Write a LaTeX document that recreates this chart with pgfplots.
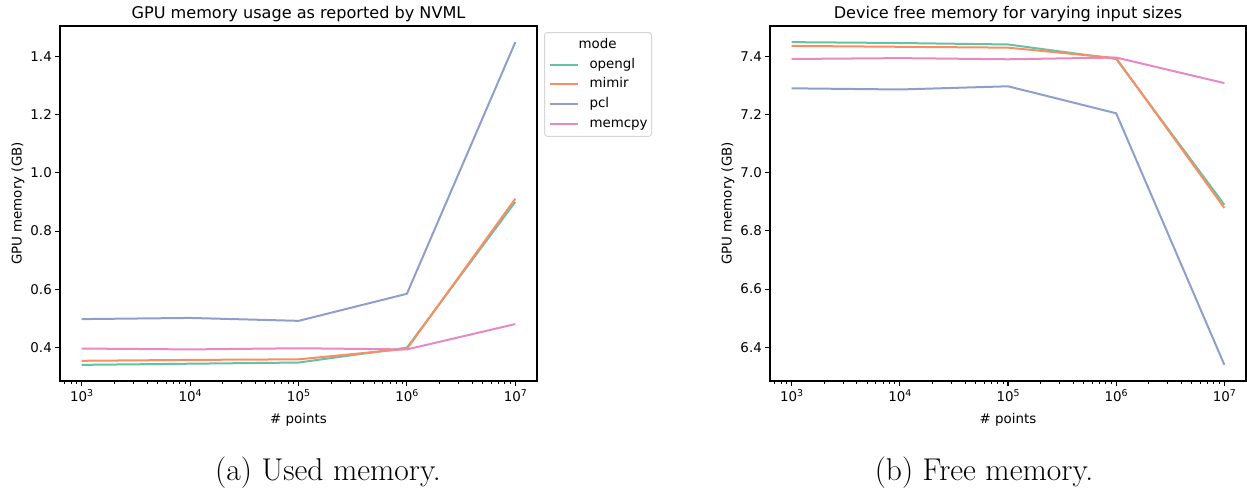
\documentclass[border=0pt]{standalone}
\usepackage{fontspec}
\newfontfamily\dejavu{DejaVu Sans}
\usepackage{pgfplots}
\pgfplotsset{compat=1.18}
\definecolor{cgreen}{HTML}{66C2A5}
\definecolor{corange}{HTML}{FC8D62}
\definecolor{cblue}{HTML}{8DA0CB}
\definecolor{cpink}{HTML}{E78AC3}
\definecolor{legframe}{HTML}{D6D6D6}
\newcommand\tfont{\dejavu\fontsize{13.4}{16}\selectfont}
\newcommand\pw[1]{10\raisebox{0.42em}{\fontsize{9.4}{10}\selectfont #1}}
\pgfplotsset{memax/.style={
  scale only axis, width=477pt, height=355pt,
  xmin=630.957, xmax=15848932,
  xtick={1000,10000,100000,1000000,10000000},
  xticklabels={\pw{3},\pw{4},\pw{5},\pw{6},\pw{7}},
  minor xtick={700,800,900,2000,3000,4000,5000,6000,7000,8000,9000,
    2e4,3e4,4e4,5e4,6e4,7e4,8e4,9e4,2e5,3e5,4e5,5e5,6e5,7e5,8e5,9e5,
    2e6,3e6,4e6,5e6,6e6,7e6,8e6,9e6},
  tick align=outside, xtick pos=left, ytick pos=left,
  major tick length=4.7pt, minor tick length=2.7pt,
  major tick style={line width=1.07pt, black},
  minor tick style={line width=0.8pt, black},
  axis line style={line width=1.07pt, black},
  tick label style={font=\tfont},
  /pgf/number format/assume math mode=true,
  yticklabel style={/pgf/number format/fixed, /pgf/number format/fixed zerofill, /pgf/number format/precision=1},
  xlabel={\# points}, ylabel={GPU memory (GB)},
  label style={font=\tfont},
  title style={font=\dejavu\fontsize{16.1}{19}\selectfont, at={(0.5,1)}, anchor=base, yshift=1.5pt},
  xlabel style={at={(axis description cs:0.5,0)}, anchor=base, yshift=-43pt},
  ylabel style={at={([xshift=-38.5pt]axis description cs:0,0.5)}, anchor=base},
  every axis plot/.append style={line width=2pt, no markers},
}}
\begin{document}
\begin{tikzpicture}
\useasboundingbox (0pt,0pt) rectangle (1247pt,489pt);
\begin{axis}[xmode=log, memax, at={(60pt,108pt)}, anchor=south west,
  ymin=0.2857, ymax=1.5034, ytick={0.4,0.6,0.8,1.0,1.2,1.4},
  title={GPU memory usage as reported by NVML},
  legend image code/.code={\draw[#1] (0pt,0pt) -- (28pt,0pt);},
  legend cell align=left,
  legend style={at={(1.0147,0.983)}, anchor=north west, draw=legframe, rounded corners=3pt,
    line width=1pt, fill=white, inner xsep=4pt, inner ysep=6pt, font=\tfont,
    row sep=6.7pt, column sep=11pt,
    nodes={inner sep=0pt, text height=10pt, text depth=3pt}},
]
\addlegendimage{empty legend}\addlegendentry{\hspace*{-11pt}mode}
\addplot[cgreen] coordinates {(1e3,0.341)(1e4,0.345)(1e5,0.349)(1e6,0.400)(1e7,0.900)};
\addlegendentry{opengl}
\addplot[corange] coordinates {(1e3,0.355)(1e4,0.358)(1e5,0.360)(1e6,0.396)(1e7,0.911)};
\addlegendentry{mimir}
\addplot[cblue] coordinates {(1e3,0.498)(1e4,0.502)(1e5,0.492)(1e6,0.585)(1e7,1.448)};
\addlegendentry{pcl}
\addplot[cpink] coordinates {(1e3,0.397)(1e4,0.394)(1e5,0.398)(1e6,0.394)(1e7,0.481)};
\addlegendentry{memcpy}
\end{axis}
\begin{axis}[xmode=log, memax, at={(770pt,108pt)}, anchor=south west, width=476pt,
  ymin=6.2834, ymax=7.5056, ytick={6.4,6.6,6.8,7.0,7.2,7.4},
  title={Device free memory for varying input sizes},
]
\addplot[cgreen] coordinates {(1e3,7.450)(1e4,7.447)(1e5,7.442)(1e6,7.392)(1e7,6.890)};
\addplot[corange] coordinates {(1e3,7.437)(1e4,7.434)(1e5,7.431)(1e6,7.395)(1e7,6.879)};
\addplot[cblue] coordinates {(1e3,7.291)(1e4,7.287)(1e5,7.298)(1e6,7.205)(1e7,6.339)};
\addplot[cpink] coordinates {(1e3,7.392)(1e4,7.395)(1e5,7.391)(1e6,7.397)(1e7,7.309)};
\end{axis}
\node[font=\fontsize{31.5}{34}\selectfont, anchor=base] at (328pt,8pt) {(a) Used memory.};
\node[font=\fontsize{31.5}{34}\selectfont, anchor=base] at (984pt,8pt) {(b) Free memory.};
\end{tikzpicture}
\end{document}
